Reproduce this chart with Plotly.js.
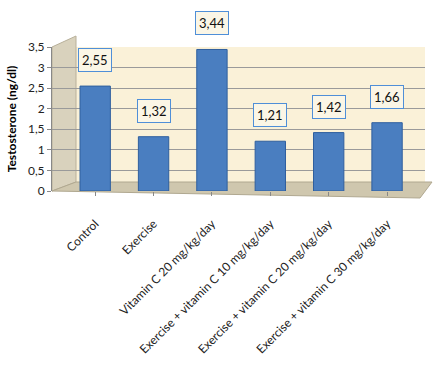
<!DOCTYPE html>
<html><head><meta charset="utf-8">
<script src="https://cdn.plot.ly/plotly-3.0.1.min.js"></script>
<style>html,body{margin:0;padding:0;background:#fff}#c{width:437px;height:389px}</style>
</head><body><div id="c"></div>
<script>
const categories = ["Control","Exercise","Vitamin C 20 mg/kg/day","Exercise + vitamin C 10 mg/kg/day","Exercise + vitamin C 20 mg/kg/day","Exercise + vitamin C 30 mg/kg/day"];
const testosterone = [2.55, 1.32, 3.44, 1.21, 1.42, 1.66];
const yTicks = [0,0.5,1,1.5,2,2.5,3,3.5];

const fmt = v => v.toFixed(2).replace('.', ',');
const L = 52, R = 12, T = 47, B = 198, W = 437, H = 389;
const pw = W - L - R, ph = H - T - B;
const px = x => (x - L) / pw, py = y => (H - B - y) / ph;

const annotations = categories.map((c, i) => ({
  x: c, y: testosterone[i], xref: 'x', yref: 'y',
  text: fmt(testosterone[i]), showarrow: false,
  yanchor: 'bottom', yshift: 14,
  font: {family: 'Lato, sans-serif', size: 13, color: '#111'},
  bgcolor: '#fbf6e6', bordercolor: '#4f8fd8', borderwidth: 1, borderpad: 3
}));

const shapes = [
  {type: 'path', xref: 'paper', yref: 'paper', layer: 'below',
   path: `M ${px(52)} ${py(191)} L ${px(52)} ${py(47)} L ${px(76)} ${py(36)} L ${px(76)} ${py(182)} Z`,
   fillcolor: '#d9d2bd', line: {color: '#b8b09a', width: 1}},
  {type: 'path', xref: 'paper', yref: 'paper', layer: 'below',
   path: `M ${px(52)} ${py(191)} L ${px(76)} ${py(182)} L ${px(432)} ${py(182)} L ${px(420)} ${py(198)} Z`,
   fillcolor: '#cfc7ae', line: {color: '#b0a890', width: 1}}
];

Plotly.newPlot('c', [{
  type: 'bar', x: categories, y: testosterone, width: 0.52,
  marker: {color: '#4a7ec0', line: {color: '#2f5f9e', width: 1}},
  hoverinfo: 'none'
}], {
  width: W, height: H,
  margin: {l: L, r: R, t: T, b: B, pad: 0},
  paper_bgcolor: '#ffffff', plot_bgcolor: '#faf1d8',
  separators: ',.',
  font: {family: 'Lato, sans-serif', size: 12, color: '#222'},
  showlegend: false,
  xaxis: {range: [-0.74, 5.65], tickangle: -45, ticks: 'outside', ticklen: 4, tickcolor: '#888',
    ticklabelstandoff: 16,
    showline: false, tickfont: {family: 'Lato, sans-serif', size: 12, color: '#222'}},
  yaxis: {range: [0, 3.5], tickvals: yTicks, ticktext: yTicks.map(v => String(v).replace('.', ',')),
    showgrid: true, gridcolor: '#9a9a9a', gridwidth: 1, zeroline: false,
    showline: true, linecolor: '#888', ticks: 'outside', ticklen: 4, tickcolor: '#888',
    tickfont: {family: 'Lato, sans-serif', size: 12, color: '#222'},
    title: {text: 'Testosterone (ng/dl)', standoff: 8,
      font: {family: 'Lato, sans-serif', size: 12, color: '#000', weight: 'bold'}}},
  shapes: shapes,
  annotations: annotations
}, {staticPlot: true, displayModeBar: false});
</script></body></html>
